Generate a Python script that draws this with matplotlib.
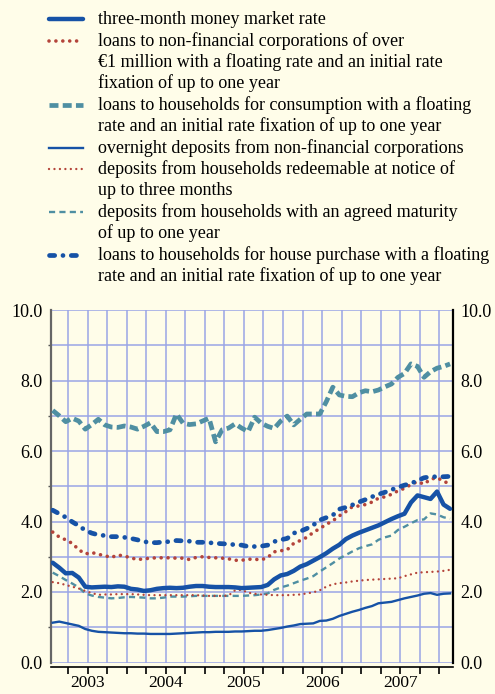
import numpy as np
import matplotlib
matplotlib.use("Agg")
import matplotlib.pyplot as plt

# ---------------------------------------------------------------- data
# monthly values, Jan 2003 .. Feb 2008
years = [2003, 2004, 2005, 2006, 2007]

money_market = [2.83, 2.69, 2.53, 2.54, 2.41, 2.15, 2.13, 2.14, 2.15, 2.14, 2.16, 2.15,
                2.09, 2.07, 2.03, 2.05, 2.09, 2.11, 2.12, 2.11, 2.12, 2.15, 2.17, 2.17,
                2.15, 2.14, 2.14, 2.14, 2.13, 2.11, 2.12, 2.13, 2.14, 2.20, 2.36, 2.47,
                2.51, 2.60, 2.72, 2.79, 2.89, 2.99, 3.10, 3.23, 3.34, 3.50, 3.60, 3.68,
                3.75, 3.82, 3.89, 3.98, 4.07, 4.15, 4.22, 4.54, 4.74, 4.69, 4.64, 4.85,
                4.48, 4.36]

loans_nfc = [3.70, 3.56, 3.48, 3.38, 3.20, 3.08, 3.12, 3.07, 3.03, 2.98, 3.05, 3.02,
             2.97, 2.92, 2.94, 2.96, 2.97, 2.97, 2.97, 2.96, 2.96, 2.92, 2.98, 3.00,
             2.98, 2.97, 2.96, 2.94, 2.90, 2.90, 2.93, 2.93, 2.91, 2.98, 3.14, 3.17,
             3.20, 3.38, 3.46, 3.55, 3.69, 3.80, 3.92, 4.02, 4.16, 4.28, 4.42, 4.44,
             4.48, 4.55, 4.66, 4.70, 4.77, 4.87, 4.94, 5.05, 5.13, 5.06, 5.20, 5.24,
             5.15, 5.05]

loans_consumption = [7.15, 7.00, 6.83, 6.93, 6.85, 6.62, 6.75, 6.90, 6.74, 6.68, 6.67, 6.71,
                     6.68, 6.62, 6.70, 6.80, 6.55, 6.55, 6.60, 7.05, 6.79, 6.75, 6.77, 6.85,
                     6.93, 6.26, 6.60, 6.65, 6.77, 6.65, 6.55, 6.96, 6.79, 6.70, 6.64, 6.85,
                     6.99, 6.74, 6.90, 7.05, 7.05, 7.05, 7.40, 7.81, 7.59, 7.55, 7.54, 7.65,
                     7.71, 7.68, 7.73, 7.82, 7.90, 8.09, 8.20, 8.47, 8.40, 8.09, 8.25, 8.35,
                     8.40, 8.47]

overnight_nfc = [1.13, 1.16, 1.12, 1.08, 1.04, 0.95, 0.90, 0.87, 0.86, 0.85, 0.84, 0.83,
                 0.83, 0.82, 0.82, 0.81, 0.81, 0.81, 0.81, 0.82, 0.83, 0.84, 0.85, 0.86,
                 0.86, 0.87, 0.87, 0.87, 0.88, 0.88, 0.89, 0.90, 0.90, 0.92, 0.95, 0.98,
                 1.02, 1.05, 1.09, 1.10, 1.11, 1.18, 1.19, 1.24, 1.32, 1.38, 1.44, 1.49,
                 1.55, 1.60, 1.68, 1.70, 1.72, 1.77, 1.82, 1.86, 1.90, 1.95, 1.97, 1.92,
                 1.95, 1.96]

dep_notice = [2.28, 2.25, 2.20, 2.15, 2.10, 2.03, 1.97, 1.92, 1.93, 1.93, 1.94, 1.94,
              1.94, 1.93, 1.92, 1.91, 1.91, 1.91, 1.91, 1.91, 1.91, 1.91, 1.91, 1.90,
              1.89, 1.89, 1.89, 1.90, 2.05, 2.06, 1.98, 1.95, 1.93, 1.92, 1.91, 1.91,
              1.91, 1.92, 1.93, 1.96, 1.99, 2.05, 2.15, 2.22, 2.25, 2.27, 2.30, 2.32,
              2.34, 2.35, 2.36, 2.37, 2.38, 2.39, 2.45, 2.50, 2.55, 2.56, 2.57, 2.58,
              2.60, 2.63]

dep_maturity = [2.55, 2.45, 2.34, 2.24, 2.13, 1.96, 1.90, 1.86, 1.84, 1.82, 1.83, 1.85,
                1.86, 1.85, 1.84, 1.82, 1.82, 1.84, 1.87, 1.87, 1.87, 1.88, 1.89, 1.89,
                1.89, 1.89, 1.89, 1.89, 1.89, 1.89, 1.90, 1.91, 1.93, 1.96, 2.06, 2.13,
                2.18, 2.25, 2.32, 2.38, 2.45, 2.58, 2.70, 2.82, 2.95, 3.05, 3.15, 3.24,
                3.30, 3.35, 3.48, 3.55, 3.60, 3.76, 3.85, 3.95, 4.04, 4.06, 4.23, 4.20,
                4.12, 4.08]

loans_house = [4.32, 4.22, 4.12, 3.99, 3.88, 3.75, 3.67, 3.62, 3.60, 3.57, 3.57, 3.55,
               3.52, 3.48, 3.43, 3.40, 3.40, 3.42, 3.43, 3.46, 3.45, 3.44, 3.41, 3.41,
               3.40, 3.38, 3.37, 3.36, 3.34, 3.33, 3.29, 3.29, 3.30, 3.33, 3.43, 3.48,
               3.52, 3.67, 3.72, 3.80, 3.90, 4.04, 4.11, 4.18, 4.35, 4.40, 4.47, 4.55,
               4.62, 4.70, 4.77, 4.83, 4.90, 4.97, 5.03, 5.08, 5.16, 5.24, 5.27, 5.27,
               5.27, 5.28]

labels = [
    "three-month money market rate",
    "loans to non-financial corporations of over\n€1 million with a floating rate and an initial rate\nfixation of up to one year",
    "loans to households for consumption with a floating\nrate and an initial rate fixation of up to one year",
    "overnight deposits from non-financial corporations",
    "deposits from households redeemable at notice of\nup to three months",
    "deposits from households with an agreed maturity\nof up to one year",
    "loans to households for house purchase with a floating\nrate and an initial rate fixation of up to one year",
]

# ---------------------------------------------------------------- styles
BG = "#fffde9"
BLUE = "#1652a6"
RED = "#b4443a"
TEAL = "#4f8fa2"
GRID = "#9aa5e6"

styles = [
    dict(color=BLUE, lw=3.2, ls="-", solid_capstyle="round"),
    dict(color=RED, lw=2.6, ls=(0, (0.01, 1.9)), dash_capstyle="round"),
    dict(color=TEAL, lw=3.4, ls=(0, (1.9, 0.9)), dash_capstyle="butt"),
    dict(color=BLUE, lw=1.7, ls="-"),
    dict(color=RED, lw=1.7, ls=(0, (0.01, 2.3)), dash_capstyle="round"),
    dict(color=TEAL, lw=1.7, ls=(0, (2.6, 1.8)), dash_capstyle="butt"),
    dict(color=BLUE, lw=3.4, ls=(0, (1.1, 1.75, 0.01, 1.75)), dash_capstyle="round"),
]
series = [money_market, loans_nfc, loans_consumption, overnight_nfc,
          dep_notice, dep_maturity, loans_house]

plt.rcParams["font.family"] = ["Liberation Serif", "DejaVu Serif"]

W, H = 495, 694
fig = plt.figure(figsize=(W / 100, H / 100), dpi=100, facecolor=BG)

# main axes (pixel geometry)
ax = fig.add_axes([50.5 / W, 31.5 / H, (453 - 50.5) / W, (662.5 - 310) / H])
ax.set_facecolor(BG)

x = np.arange(len(money_market)) + 0.65   # months since Jan 2003

draw_order = [2, 1, 6, 5, 4, 3, 0]
for k in draw_order:
    ax.plot(x, series[k], zorder=3 + (k == 0), **styles[k])

ax.set_xlim(0.31, 62.1)
ax.set_ylim(0, 10)

# grid
ax.set_yticks(np.arange(0, 10.1, 2))
ax.set_yticks(np.arange(1, 10, 2), minor=True)
ax.set_yticklabels([f"{v:.1f}" for v in np.arange(0, 10.1, 2)])
quarters = np.arange(3, 61, 3)
ax.set_xticks(quarters, minor=True)
ax.set_xticks([])
ax.grid(True, which="both", axis="y", color=GRID, lw=1.1, zorder=1)
ax.grid(True, which="minor", axis="x", color=GRID, lw=1.1, zorder=1)
ax.set_axisbelow(True)

ax.tick_params(axis="y", which="both", left=True, right=False, direction="out",
               length=2.5, width=1, color="#555555", labelsize=13, pad=5.5,
               labelright=True, labelleft=True)
ax.tick_params(axis="y", which="major", right=True, length=0)
ax.tick_params(axis="x", which="minor", bottom=True, direction="out",
               length=5, width=1.2, color="black")

ax.spines["top"].set_visible(False)
ax.spines["left"].set_color("#666666")
ax.spines["left"].set_linewidth(1.6)
ax.spines["right"].set_color("black")
ax.spines["right"].set_linewidth(1.6)
ax.spines["bottom"].set_position(("outward", 3))
ax.spines["bottom"].set_linewidth(1.2)

# year labels centred on each year
for i, yr in enumerate(years):
    ax.text(12 * i + 6, -0.058, str(yr), transform=ax.get_xaxis_transform(),
            ha="center", va="center", fontsize=12.5)

# legend drawn in pixel coordinates on an overlay
lg = fig.add_axes([0, 0, 1, 1], facecolor="none")
lg.set_xlim(0, W)
lg.set_ylim(H, 0)
lg.axis("off")
row_h = 21.4
row = 0
for lab, st in zip(labels, styles):
    y0 = 19.3 + row * row_h
    lg.plot([49, 83], [y0, y0], **st)
    for j, line in enumerate(lab.split("\n")):
        lg.text(98, y0 + j * row_h, line, ha="left", va="center", fontsize=13)
    row += lab.count("\n") + 1

fig.savefig("out.png", dpi=100, facecolor=BG)
